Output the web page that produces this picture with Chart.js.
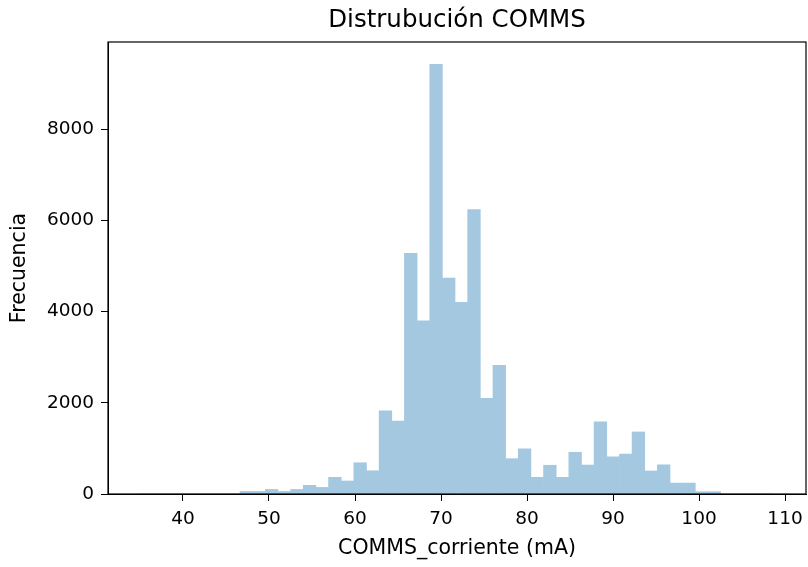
<!DOCTYPE html>
<html>
<head>
<meta charset="utf-8">
<script src="https://cdn.jsdelivr.net/npm/chart.js@4/dist/chart.umd.min.js"></script>
<style>
  html, body { margin: 0; padding: 0; background: #fff; }
  #chart { display: block; }
</style>
</head>
<body>
<canvas id="chart" width="808" height="567"></canvas>
<script>
// histogram range of COMMS_corriente (mA), 50 equal bins
const histMin = 34.87
const histMax = 108.39
const binCount = 50

// counts per bin, left to right
const counts = [
  0, 0, 0, 0, 0, 0, 0, 0,
  55, 55, 100, 55, 100, 190, 145, 365, 285, 685,
  510, 1825, 1600, 5275, 3795, 9420, 4735, 4200, 6235, 2100,
  2820, 775, 990, 365, 630, 365, 915, 635, 1585, 815,
  875, 1360, 505, 640, 240, 240, 50, 50,
  0, 0, 0, 0
]

const xTicks = [40, 50, 60, 70, 80, 90, 100, 110]
const yTicks = [0, 2000, 4000, 6000, 8000]

const chartTitle = 'Distrubución COMMS'

const binWidth = (histMax - histMin) / binCount
const bins = counts.map((c, i) => ({ x: histMin + (i + 0.5) * binWidth, y: c }))

const family = "'DejaVu Sans', sans-serif"
const tickFont = { family, size: 18.5 }
const labelFont = { family, size: 20.5 }

// box around the plot area plus a title centred over it
const frame = {
  id: 'frame',
  afterDraw (chart) {
    const { ctx, chartArea: a } = chart
    ctx.save()
    ctx.strokeStyle = '#000'
    ctx.lineWidth = 1.2
    ctx.strokeRect(a.left, a.top, a.right - a.left, a.bottom - a.top)
    ctx.fillStyle = '#000'
    ctx.font = '24.5px ' + family
    ctx.textAlign = 'center'
    ctx.textBaseline = 'middle'
    ctx.fillText(chartTitle, (a.left + a.right) / 2, 21)
    ctx.restore()
  }
}

new Chart(document.getElementById('chart'), {
  type: 'bar',
  data: {
    datasets: [{
      data: bins,
      backgroundColor: '#a5c8e1',
      borderWidth: 0,
      barPercentage: 1,
      categoryPercentage: 1
    }]
  },
  options: {
    responsive: false,
    animation: false,
    devicePixelRatio: 1,
    layout: { padding: { left: 0, right: 2, top: 42, bottom: 0 } },
    plugins: {
      legend: { display: false },
      tooltip: { enabled: false },
      title: { display: false }
    },
    scales: {
      x: {
        type: 'linear',
        offset: false,
        min: 31.28,
        max: 112.44,
        afterBuildTicks: s => { s.ticks = xTicks.map(v => ({ value: v })) },
        afterFit: s => {
          s.height = 73
          s.paddingLeft = 0
          s.paddingRight = 0
        },
        ticks: { color: '#000', font: tickFont, padding: 7, maxRotation: 0, autoSkip: false },
        grid: { offset: false, drawOnChartArea: false, drawTicks: true, tickLength: 7, color: '#000' },
        border: { display: true, color: '#000', width: 1 },
        title: {
          display: true,
          text: 'COMMS_corriente (mA)',
          color: '#000',
          font: labelFont,
          padding: { top: 0, bottom: 6 }
        }
      },
      y: {
        min: 0,
        max: 9910,
        afterBuildTicks: s => { s.ticks = yTicks.map(v => ({ value: v })) },
        afterFit: s => { s.width = 108 },
        ticks: { color: '#000', font: tickFont, padding: 7, callback: v => String(v) },
        grid: { drawOnChartArea: false, drawTicks: true, tickLength: 7, color: '#000' },
        border: { display: true, color: '#000', width: 1 },
        title: {
          display: true,
          text: 'Frecuencia',
          color: '#000',
          font: labelFont,
          padding: { top: 7, bottom: 0 }
        }
      }
    }
  },
  plugins: [frame]
})
</script>
</body>
</html>
